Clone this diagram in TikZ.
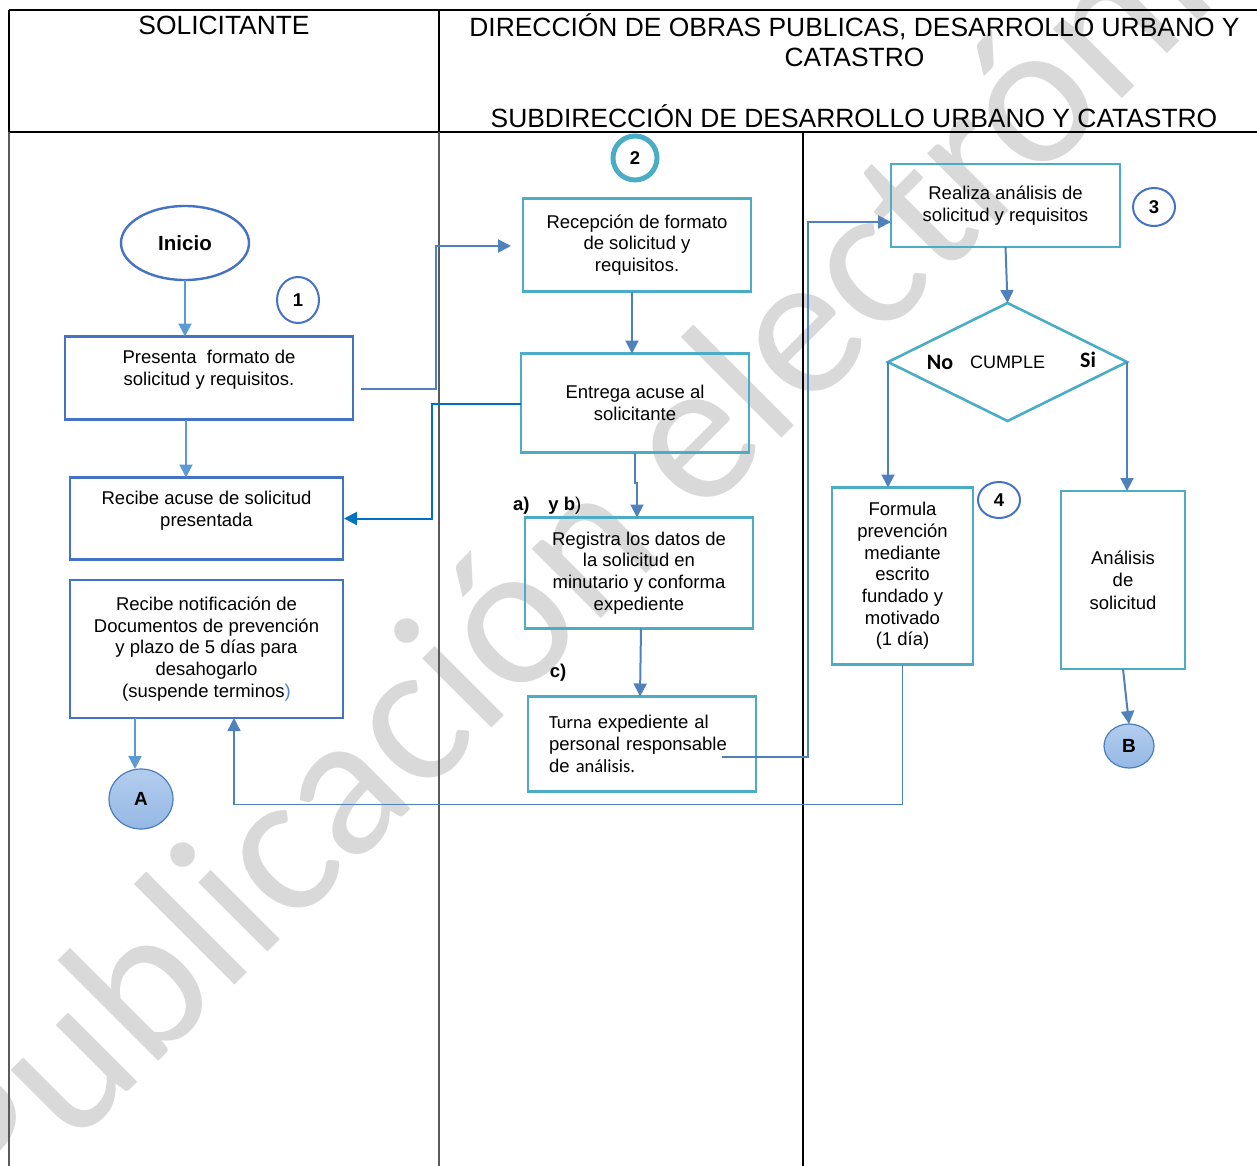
\documentclass[tikz,border=0pt]{standalone}
\usepackage{fontspec}
\setmainfont{Liberation Sans}
\newfontfamily\calib{Carlito}
\newfontfamily\wmfont{Carlito}
\usetikzlibrary{shapes.geometric,arrows.meta}
\definecolor{bluebox}{HTML}{4472C4}
\definecolor{tealbox}{HTML}{4BACC6}
\definecolor{arrlight}{HTML}{5B9BD5}
\definecolor{arrmid}{HTML}{4F81BD}
\definecolor{arrdark}{HTML}{0070C0}
\definecolor{wmgray}{HTML}{D9D9D9}
\definecolor{circtop}{HTML}{B3CDEE}
\definecolor{circbot}{HTML}{95B8E4}
\definecolor{circline}{HTML}{4A7EBB}
\definecolor{tblgray}{HTML}{5A5A5A}
\tikzset{
  every node/.style={inner sep=0pt, outer sep=0pt},
  txt/.style={font=\fontsize{18.5}{21.7}\selectfont, align=center},
  bbox/.style={draw=bluebox, line width=2.6pt, txt},
  tbox/.style={draw=tealbox, line width=2.6pt, txt},
  num/.style={ellipse, draw=bluebox, line width=2pt, font=\bfseries\fontsize{18.5}{20}\selectfont},
  tip/.style={-{Triangle[width=13pt,length=13pt]}},
  arrl/.style={draw=arrlight, line width=2pt, tip},
  arrm/.style={draw=arrmid, line width=2pt, tip},
  arrd/.style={draw=arrdark, line width=2pt, tip},
  arrthin/.style={draw=arrmid, line width=1.4pt, tip},
  conncirc/.style={ellipse, draw=circline, line width=1.2pt, top color=circtop, bottom color=circbot, font=\bfseries\fontsize{19}{20}\selectfont},
  head/.style={font=\fontsize{26.4}{30}\selectfont, align=center},
  lbl/.style={font=\bfseries\fontsize{18.5}{20}\selectfont},
  tblline/.style={line width=2pt, black},
  tblbody/.style={line width=1.8pt, tblgray},
}
\begin{document}
\begin{tikzpicture}[x=1pt,y=-1pt]
\useasboundingbox (0,0) rectangle (1257,1166);
% watermark
\begin{scope}
\clip (0,0) rectangle (1257,1166);
\node[rotate=45, anchor=base west, text=wmgray, font=\wmfont\fontsize{205}{205}\selectfont] (wm) at (-3,1223) {Publicación electrónica};
\end{scope}
% table
\draw[tblline] (9,10) -- (1257,10);
\draw[tblline] (9,132) -- (1257,132);
\draw[tblline] (9,10) -- (9,132);
\draw[tblline] (439,10) -- (439,132);
\draw[tblbody] (9,132) -- (9,1166);
\draw[tblbody] (439,132) -- (439,1166);
\draw[tblline] (803,132) -- (803,1166);
\node[head] (hsol) at (224,25) {SOLICITANTE};
\node[head] (hdir) at (854.5,40) {DIRECCIÓN DE OBRAS PUBLICAS, DESARROLLO URBANO Y\\CATASTRO};
\node[head] (hsub) at (854,116) {SUBDIRECCIÓN DE DESARROLLO URBANO Y CATASTRO};
% column 1
\node[ellipse, draw=bluebox, line width=2.4pt, minimum width=128pt, minimum height=74pt, font=\bfseries\fontsize{20.5}{22}\selectfont] (inicio) at (185,243) {Inicio};
\node[num, minimum width=42pt, minimum height=46pt] (n1) at (298,300) {1};
\node[bbox, minimum width=288pt, minimum height=83pt, text depth=21pt] (presenta) at (209,378) {Presenta~ formato de\\solicitud y requisitos.};
\node[bbox, minimum width=273pt, minimum height=82pt, text depth=20pt] (recacuse) at (206.5,518.5) {Recibe acuse de solicitud\\presentada};
\node[bbox, minimum width=273pt, minimum height=138pt] (notif) at (206.5,649) {Recibe notificación de\\Documentos de prevención\\y plazo de 5 días para\\desahogarlo\\(suspende terminos\textcolor{arrmid}{)}};
\node[conncirc, minimum width=64pt, minimum height=60pt] (A) at (141,799) {A};
% column 2
\node[ellipse, draw=tealbox, line width=5pt, minimum width=44pt, minimum height=44pt, font=\bfseries\fontsize{18.5}{20}\selectfont] (n2) at (635,158) {2};
\node[tbox, minimum width=228pt, minimum height=93pt] (recepcion) at (637,245) {Recepción de formato\\de solicitud y\\requisitos.};
\node[tbox, minimum width=228pt, minimum height=99pt] (entrega) at (635,403) {Entrega acuse al\\solicitante};
\node[lbl, anchor=west] (lab) at (513,506) {a)\hspace{19pt}y b\mdseries)};
\node[tbox, minimum width=228pt, minimum height=111pt] (registra) at (639,573) {Registra los datos de\\la solicitud en\\minutario y conforma\\expediente};
\node[lbl] (labc) at (558,673) {c)};
\node[tbox, minimum width=228pt, minimum height=95pt, text width=186pt, align=left] (turna) at (642,744) {{\calib Turna} expediente al\\personal responsable\\de\ {\calib análisis.}};
% column 3
\node[tbox, minimum width=229pt, minimum height=83pt] (realiza) at (1005.5,205.5) {Realiza análisis de\\solicitud y requisitos};
\node[num, minimum width=42pt, minimum height=38pt] (n3) at (1154,207) {3};
\node[diamond, draw=tealbox, line width=2.6pt, minimum width=239pt, minimum height=118pt] (dia) at (1007.5,362) {};
\node[font=\calib\bfseries\fontsize{22}{22}\selectfont] (no) at (940,362) {No};
\node[font=\fontsize{18}{20}\selectfont] (cumple) at (1007.5,362) {CUMPLE};
\node[font=\calib\bfseries\fontsize{22}{22}\selectfont] (si) at (1088,360) {Si};
\node[tbox, minimum width=141pt, minimum height=177pt] (formula) at (902.5,576) {Formula\\prevención\\mediante\\escrito\\fundado y\\motivado\\(1 día)};
\node[num, minimum width=42pt, minimum height=36pt] (n4) at (999,500) {4};
\node[tbox, minimum width=124pt, minimum height=178pt, font=\fontsize{18.5}{22.5}\selectfont] (analisis) at (1123,580) {Análisis\\de\\solicitud};
\node[conncirc, minimum width=50pt, minimum height=44pt] (B) at (1129,746) {B};
% connectors
\draw[arrl] (inicio.south) -- (inicio.south |- presenta.north);
\draw[arrl] ([xshift=-23pt]presenta.south) -- ([xshift=-20.5pt]recacuse.north);
\draw[arrl] ([xshift=-71.5pt]notif.south) -- ([xshift=-6pt]A.north);
\draw[arrm] ([shift={(8pt,-11pt)}]presenta.east) -- ++(75,0) |- ([xshift=-12pt,yshift=-1pt]recepcion.west);
\draw[arrd] ([yshift=-1pt]entrega.west) -- ++(-89,0) |- ([xshift=1pt]recacuse.east);
\draw[arrm] ([xshift=-5pt]recepcion.south) -- ([xshift=-3pt]entrega.north);
\draw[arrm] (entrega.south) -- ++(0,30) -| ([xshift=-2pt]registra.north);
\draw[arrm] ([xshift=2pt]registra.south) -- ([xshift=-2pt]turna.north);
\draw[arrm] ([shift={(80pt,-13pt)}]turna.center) -- ++(86,0) |- ([yshift=-16.5pt]realiza.west);
\draw[arrm] (realiza.south) -- (dia.north);
\draw[arrm] (dia.west) -- (dia.west |- formula.north);
\draw[arrm] (dia.east) -- (dia.east |- analisis.north);
\draw[arrm] (analisis.south) -- (B.north);
\draw[arrthin] (formula.south) -- ++(0,140) -| ([xshift=27.5pt]notif.south);
\end{tikzpicture}
\end{document}
